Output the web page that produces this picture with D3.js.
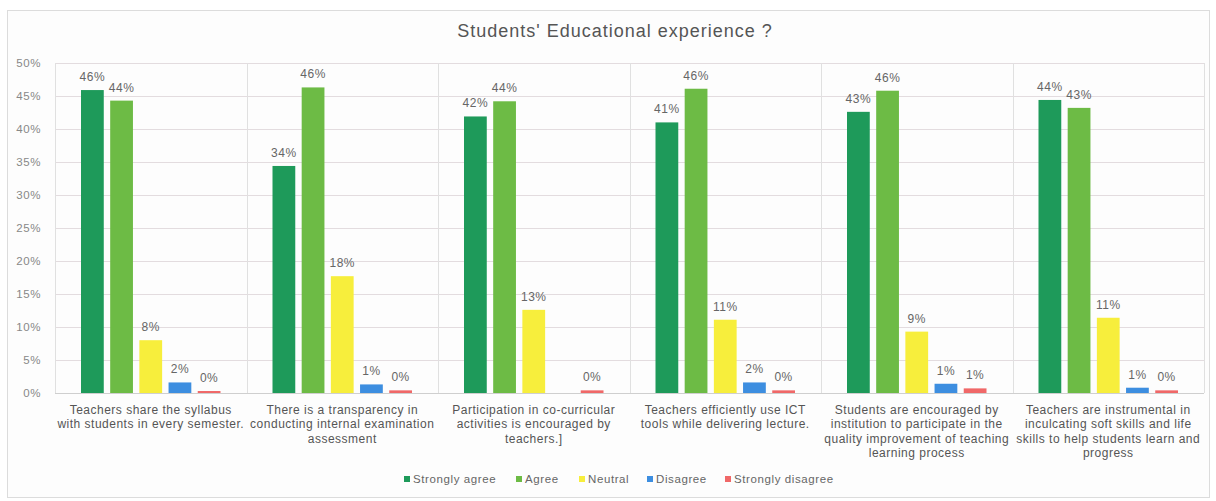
<!DOCTYPE html>
<html>
<head>
<meta charset="utf-8">
<script src="https://cdn.jsdelivr.net/npm/d3@7"></script>
<style>
    body { margin: 0; background: #ffffff; }
    svg { display: block; font-family: "Liberation Sans", Arial, sans-serif; }
</style>
</head>
<body>
<div id="page"></div>
<script>
// data
const categories = [
    ["Teachers share the syllabus", "with students in every semester."],
    ["There is a transparency in", "conducting internal examination", "assessment"],
    ["Participation in co-curricular", "activities is encouraged by", "teachers.]"],
    ["Teachers efficiently use ICT", "tools while delivering lecture."],
    ["Students are encouraged by", "institution to participate in the", "quality improvement of teaching", "learning process"],
    ["Teachers are instrumental in", "inculcating soft skills and life", "skills to help students learn and", "progress"]
];
const series_names = ["Strongly agree", "Agree", "Neutral", "Disagree", "Strongly disagree"];
const strongly_agree = [45.9, 34.4, 41.9, 41.0, 42.6, 44.4];
const agree = [44.3, 46.3, 44.2, 46.1, 45.8, 43.2];
const neutral = [8.0, 17.7, 12.6, 11.1, 9.3, 11.4];
const disagree = [1.6, 1.3, null, 1.6, 1.4, 0.8];
const strongly_disagree = [0.3, 0.4, 0.4, 0.4, 0.7, 0.4];
const y_ticks = [0, 5, 10, 15, 20, 25, 30, 35, 40, 45, 50];
const colors = ["#1e9a5a", "#6dbb45", "#f7ee3c", "#3d8ee0", "#f06868"];

const all_series = [strongly_agree, agree, neutral, disagree, strongly_disagree];

// cons
const w = 1216;
const h = 501;
const plot = { left: 55, right: 1204, top: 63, bottom: 393 };

const svg = d3.select("#page")
    .append("svg")
    .attr("width", w)
    .attr("height", h);

// chart frame
svg.append("rect")
    .attr("x", 7.5).attr("y", 10.5)
    .attr("width", 1202).attr("height", 487)
    .attr("fill", "#fdfdfd")
    .attr("stroke", "#dcdcdc");

// title
svg.append("text")
    .attr("x", 615).attr("y", 37)
    .attr("text-anchor", "middle")
    .attr("font-size", 18)
    .attr("letter-spacing", 1)
    .attr("fill", "#555")
    .text("Students' Educational experience ?");

// scales
const x = d3.scaleBand()
    .domain(d3.range(categories.length))
    .range([plot.left, plot.right])
    .padding(0);

const x_inner = d3.scaleBand()
    .domain(d3.range(series_names.length))
    .range([26, x.bandwidth() - 26])
    .paddingInner(0.22);

const y = d3.scaleLinear()
    .domain([0, 50])
    .range([plot.bottom, plot.top]);

// grid
svg.append("g")
    .selectAll("line")
    .data(y_ticks)
    .join("line")
    .attr("x1", plot.left).attr("x2", plot.right)
    .attr("y1", (d) => y(d) + 0.5).attr("y2", (d) => y(d) + 0.5)
    .attr("stroke", (d) => d === 0 ? "#cfcfcf" : "#e3dcdf");

svg.append("g")
    .selectAll("line")
    .data(d3.range(categories.length + 1))
    .join("line")
    .attr("x1", (d) => Math.round(plot.left + d * x.bandwidth()) + 0.5)
    .attr("x2", (d) => Math.round(plot.left + d * x.bandwidth()) + 0.5)
    .attr("y1", plot.top).attr("y2", plot.bottom)
    .attr("stroke", "#e0e0e0");

// y axis
const y_axis = svg.append("g")
    .attr("transform", `translate(${plot.left - 11},0)`)
    .call(d3.axisLeft(y).tickValues(y_ticks).tickFormat((d) => d + "%").tickSize(0));
y_axis.select(".domain").remove();
y_axis.selectAll("text")
    .attr("font-size", 11.5)
    .attr("letter-spacing", 0.6)
    .attr("fill", "#888")
    .attr("font-family", "Liberation Sans, Arial, sans-serif");

// bars
const groups = svg.append("g")
    .selectAll("g")
    .data(categories)
    .join("g")
    .attr("transform", (d, i) => `translate(${x(i)},0)`);

all_series.forEach((values, s) => {
    groups.each(function (d, i) {
        const v = values[i];
        if (v === null) return;
        const g = d3.select(this);
        g.append("rect")
            .attr("x", x_inner(s))
            .attr("y", y(v))
            .attr("width", x_inner.bandwidth())
            .attr("height", y(0) - y(v))
            .attr("fill", colors[s]);
        g.append("text")
            .attr("x", x_inner(s) + x_inner.bandwidth() / 2)
            .attr("y", y(v) - 9)
            .attr("text-anchor", "middle")
            .attr("font-size", 12)
            .attr("letter-spacing", 0.5)
            .attr("fill", "#666")
            .text(Math.round(v) + "%");
    });
});

// category labels
groups.append("text")
    .attr("text-anchor", "middle")
    .attr("font-size", 12)
    .attr("letter-spacing", 0.5)
    .attr("fill", "#555")
    .selectAll("tspan")
    .data((d) => d)
    .join("tspan")
    .attr("x", x.bandwidth() / 2)
    .attr("y", (d, j) => 413.5 + j * 14.5)
    .text((d) => d);

// legend
const legend_x = [404, 516, 579, 647, 725];
const legend = svg.append("g")
    .selectAll("g")
    .data(series_names)
    .join("g")
    .attr("transform", (d, i) => `translate(${legend_x[i]},479)`);

legend.append("rect")
    .attr("x", 0).attr("y", -3)
    .attr("width", 6).attr("height", 6)
    .attr("fill", (d, i) => colors[i]);

legend.append("text")
    .attr("x", 9).attr("y", 4)
    .attr("font-size", 11.5)
    .attr("letter-spacing", 0.6)
    .attr("fill", "#666")
    .text((d) => d);
</script>
</body>
</html>
